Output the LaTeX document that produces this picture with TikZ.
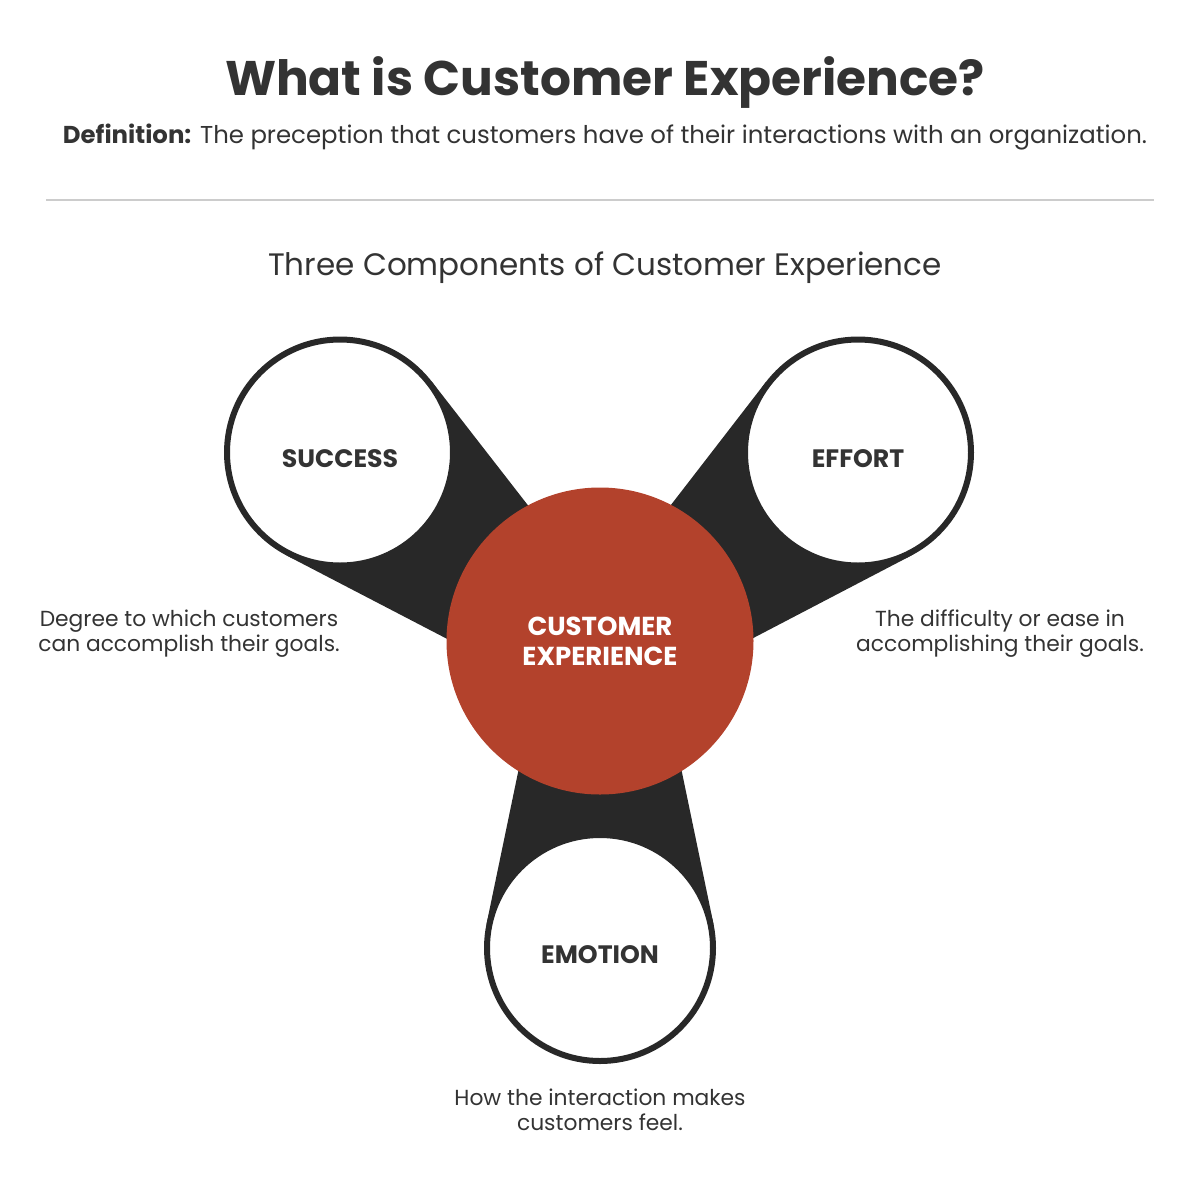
\documentclass[tikz,border=0pt]{standalone}
\usepackage{fontspec}
\setmainfont{Poppins}
\usetikzlibrary{calc, positioning}

\definecolor{cxred}{HTML}{B3422C}
\definecolor{ink}{HTML}{282828}
\definecolor{txt}{HTML}{333333}
\definecolor{rulegray}{HTML}{CCCCCC}

\pgfdeclarelayer{background}
\pgfsetlayers{background,main}

\begin{document}
\begin{tikzpicture}[
      x=0.5pt, y=-0.5pt,
      bubble/.style={circle, draw=ink, line width=3pt, fill=white, minimum size=113pt,
        inner sep=0pt, text=txt, text height=15pt, text depth=0pt,
        font=\bfseries\fontsize{12.6}{15}\selectfont},
      core/.style={circle, fill=cxred, minimum size=153.5pt, inner sep=0pt,
        text=white, align=center, font=\bfseries\fontsize{13}{15}\selectfont},
      band/.style={fill=ink},
      desc/.style={align=center, text=txt, font=\fontsize{10.9}{12.5}\selectfont}
    ]
    \useasboundingbox (0,0) rectangle (1200,1200);

    % heading
    \node[text=txt, font=\bfseries\fontsize{24.3}{28}\selectfont] (title) at (605,82) {What is Customer Experience?};
    \node[text=txt, font=\fontsize{12.2}{14}\selectfont] (defn) at (605,137) {\textbf{Definition:} The preception that customers have of their interactions with an organization.};
    \draw[rulegray, line width=1pt] (46,200) -- (1154,200);
    \node[text=txt, font=\fontsize{15.5}{18}\selectfont] (sub) at (605,268) {Three Components of Customer Experience};

    % circles
    \node[core] (cx) at (600,641) {CUSTOMER\\EXPERIENCE};
    \node[bubble] (succ) at (340,452.5) {SUCCESS};
    \node[bubble] (eff) at (858,452.5) {EFFORT};
    \node[bubble] (emo) at (600,948) {EMOTION};

    % where the bands would meet
    \coordinate (aS) at (757,800);
    \coordinate (aE) at (443,800);
    \coordinate (aM) at (600,378);

    \begin{pgfonlayer}{background}
      \foreach \c/\a in {succ/aS, eff/aE, emo/aM} {
        \path (tangent cs:node=\c,point={(\a)},solution=1) coordinate (t1)
              (tangent cs:node=\c,point={(\a)},solution=2) coordinate (t2);
        \fill[band] (\c.center) -- (t1) -- ($(t1)!0.55!(\a)$) -- (cx.center)
          -- ($(t2)!0.55!(\a)$) -- (t2) -- cycle;
      }
    \end{pgfonlayer}

    % descriptions
    \node[desc] (dS) at (189,634) {Degree to which customers\\can accomplish their goals.};
    \node[desc] (dE) at (1000,634) {The difficulty or ease in\\accomplishing their goals.};
    \node[desc] (dM) at (600,1110) {How the interaction makes\\customers feel.};
\end{tikzpicture}
\end{document}
